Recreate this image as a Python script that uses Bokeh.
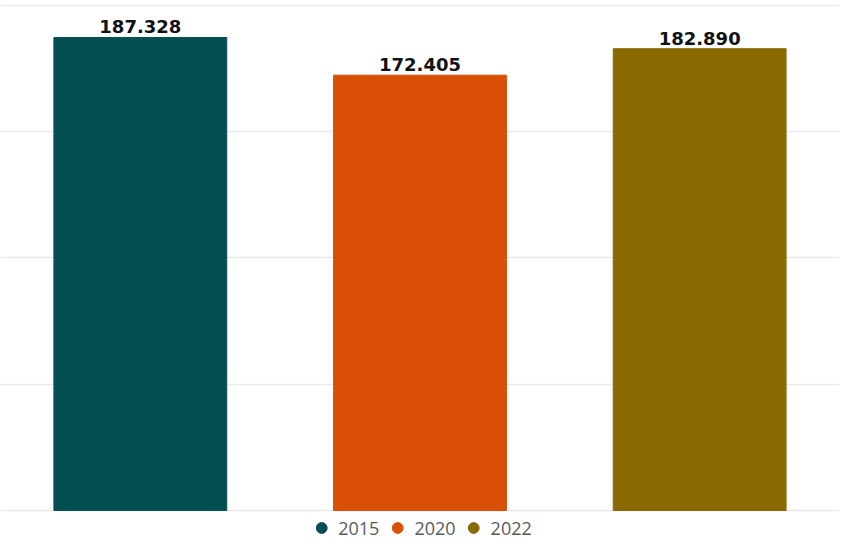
from bokeh.plotting import figure
from bokeh.models import ColumnDataSource, Legend, LegendItem, FixedTicker, FactorRange
from bokeh.embed import file_html
from bokeh.resources import INLINE
from bokeh.core.properties import value

years = ["2015", "2020", "2022"]
values = [187.328, 172.405, 182.890]
labels = ["187.328", "172.405", "182.890"]
colors = ["#044f54", "#d94f05", "#8a6a03"]

src = ColumnDataSource(dict(x=years, top=values, label=labels, color=colors))

p = figure(x_range=FactorRange(factors=years, start=-0.0106, end=2.954),
           y_range=(-12.28, 201.98), width=839, height=541,
           output_backend="svg", toolbar_location=None,
           min_border_left=0, min_border_right=0, min_border_top=0, min_border_bottom=0)
p.outline_line_color = None
p.xaxis.visible = False
p.yaxis.visible = False
p.xgrid.grid_line_color = None
p.ygrid.ticker = FixedTicker(ticks=[0, 50, 100, 150, 200])
p.ygrid.grid_line_color = "#e9e9e9"
p.ygrid.grid_line_width = 1.5

r = p.vbar(x="x", top="top", bottom=0, width=0.618, color="color", source=src)
p.text(x="x", y="top", text="label", source=src, text_align="center",
       text_baseline="bottom", y_offset=-4, text_font=value("DejaVu Sans"),
       text_font_style="bold", text_font_size="18px", text_color="#111111")

items = []
for i, y in enumerate(years):
    c = p.scatter(x=[years[i]], y=[-500], size=12, color=colors[i], marker="circle")
    items.append(LegendItem(label=y, renderers=[c]))

legend = Legend(items=items, orientation="horizontal", location="bottom_center",
                label_text_font="Open Sans", label_text_font_size="18px",
                label_text_color="#5a5a5a", glyph_width=27, glyph_height=27,
                label_standoff=4, spacing=4, padding=0, margin=0,
                border_line_color=None, background_fill_alpha=0)
p.add_layout(legend)

open("out.html", "w").write(file_html(p, INLINE))
